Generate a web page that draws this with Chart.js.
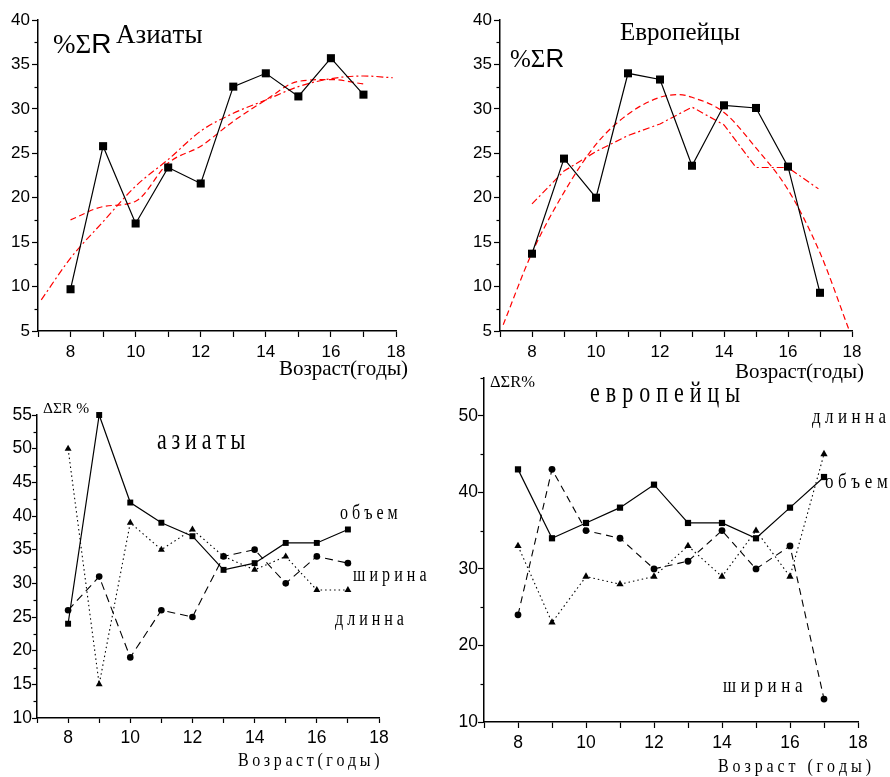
<!DOCTYPE html>
<html>
<head>
<meta charset="utf-8">
<script src="https://cdn.jsdelivr.net/npm/chart.js@4.4.0/dist/chart.umd.min.js"></script>
<style>
html, body { margin: 0; padding: 0; background: #fff; }
#wrap { position: relative; width: 890px; height: 777px; overflow: hidden; background: #fff; }
canvas { position: absolute; left: 0; top: 0; }
</style>
</head>
<body>
<div id="wrap">
  <canvas id="c1" width="890" height="777"></canvas>
  <canvas id="c2" width="890" height="777"></canvas>
  <canvas id="c3" width="890" height="777"></canvas>
  <canvas id="c4" width="890" height="777"></canvas>
</div>
<script>
// данные (возраст, годы)
const ages = [8, 9, 10, 11, 12, 13, 14, 15, 16, 17];

// верх слева: азиаты, %ΣR
const asianSum = [9.7, 25.8, 17.1, 23.4, 21.6, 32.5, 34.0, 31.4, 35.7, 31.6];
const asianFitAX = [8, 9, 10, 11, 12, 13, 14, 15, 16, 17];
const asianFitA = [17.5, 19.0, 19.6, 23.9, 25.8, 28.6, 31.0, 33.1, 33.3, 32.8];
const asianFitBX = [7.1, 8, 9, 10, 11, 12, 13, 14, 15, 16, 17, 17.9];
const asianFitB = [8.5, 13.2, 17.3, 21.3, 24.3, 27.5, 29.5, 31.0, 32.5, 33.4, 33.7, 33.5];

// верх справа: европейцы, %ΣR
const euroSum = [13.7, 24.4, 20.0, 34.0, 33.3, 23.6, 30.4, 30.1, 23.5, 9.3];
const euroFitAX = [7.1, 8, 9, 10, 11, 12, 12.6, 13, 14, 15, 16, 17, 17.9];
const euroFitA = [5.7, 13.8, 20.6, 26.0, 29.4, 31.3, 31.6, 31.3, 29.6, 25.6, 20.9, 13.8, 5.2];
const euroFitBX = [8, 9, 10, 11, 12, 13, 14, 15, 16, 16.95];
const euroFitB = [19.3, 23.0, 25.2, 27.0, 28.3, 30.2, 28.2, 23.4, 23.4, 21.0];

// низ слева: азиаты, ΔΣR%
const asianVolume = [24, 55, 42, 39, 37, 32, 33, 36, 36, 38];
const asianWidth = [26, 31, 19, 26, 25, 34, 35, 30, 34, 33];
const asianLength = [50, 15, 39, 35, 38, 34, 32, 34, 29, 29];

// низ справа: европейцы, ΔΣR%
const euroVolume = [43, 34, 36, 38, 41, 36, 36, 34, 38, 42];
const euroWidth = [24, 43, 35, 34, 30, 31, 35, 30, 33, 13];
const euroLength = [33, 23, 29, 28, 29, 33, 29, 35, 29, 45];

const xTicks = [8, 10, 12, 14, 16, 18];

const SANS = '"Liberation Sans", Arial, sans-serif';
const SERIF = '"Liberation Serif", "Times New Roman", serif';
const RED = '#ff0000';

const pts = (xs, ys) => xs.map((x, i) => ({ x: x, y: ys[i] }));

// текст с разрядкой
function drawSpaced(ctx, s, x, y, font, ls, sy) {
    ctx.save();
    ctx.font = font;
    ctx.fillStyle = '#000';
    ctx.textBaseline = 'alphabetic';
    ctx.textAlign = 'left';
    ctx.translate(x, y);
    ctx.scale(1, sy || 1);
    let cx = 0;
    for (const ch of s) {
        ctx.fillText(ch, cx, 0);
        cx += ctx.measureText(ch).width + (ls || 0);
    }
    ctx.restore();
    return x + cx - (ls || 0);
}

// подписи + короткие промежуточные штрихи на оси Y
const makeNotes = (items, yLabel) => ({
    id: 'notes',
    afterDraw(chart) {
        const ctx = chart.ctx;
        const ys = chart.scales.y;
        ctx.save();
        ctx.strokeStyle = '#000';
        ctx.lineWidth = 1.2;
        ys.ticks.forEach(t => {
            if (t.value % yLabel !== 0) {
                const py = Math.round(ys.getPixelForValue(t.value)) + 0.5;
                ctx.beginPath();
                ctx.moveTo(ys.right, py);
                ctx.lineTo(ys.right - 3.5, py);
                ctx.stroke();
            }
        });
        ctx.restore();
        items.forEach(it => {
            let x = it.x;
            it.parts.forEach(p => {
                x = drawSpaced(ctx, p.t, x, it.y, p.f, p.ls, p.sy);
            });
        });
    }
});

// box: L, R, T, B - положение области графика на странице
const makeChart = (id, box, yOpt, datasets, notes, tick) => {
    const yw = 36, xh = 40;
    return new Chart(document.getElementById(id), {
        type: 'line',
        data: { datasets: datasets },
        options: {
            responsive: false,
            animation: false,
            events: [],
            layout: {
                padding: {
                    left: box.L - yw,
                    right: 890 - box.R,
                    top: box.T,
                    bottom: 777 - box.B - xh
                }
            },
            plugins: { legend: { display: false }, tooltip: { enabled: false } },
            scales: {
                x: {
                    type: 'linear',
                    min: 7, max: 18,
                    afterFit: s => { s.height = xh; },
                    grid: { display: true, drawOnChartArea: false, tickLength: tick.len, color: '#000', tickWidth: 1.2 },
                    border: { display: true, color: '#000', width: 1.5 },
                    ticks: {
                        stepSize: 1,
                        autoSkip: false,
                        maxRotation: 0,
                        padding: tick.xpad,
                        color: '#000',
                        font: { family: SANS, size: tick.size },
                        callback: v => xTicks.includes(v) ? String(v) : ''
                    }
                },
                y: {
                    min: yOpt.min, max: yOpt.max,
                    afterFit: s => { s.width = yw; },
                    grid: {
                        display: true, drawOnChartArea: false, tickLength: tick.len, tickWidth: 1.2,
                        color: '#000',
                        tickColor: c => (c.tick && c.tick.value % yOpt.label !== 0) ? 'rgba(0,0,0,0)' : '#000'
                    },
                    border: { display: true, color: '#000', width: 1.5 },
                    ticks: {
                        stepSize: yOpt.step,
                        autoSkip: false,
                        padding: tick.ypad,
                        color: '#000',
                        font: { family: SANS, size: tick.size },
                        callback: v => (v % yOpt.label === 0) ? String(v) : ''
                    }
                }
            }
        },
        plugins: [makeNotes(notes, yOpt.label)]
    });
};

const markLine = (xs, ys, style, r, dash, w) => ({
    data: pts(xs, ys),
    borderColor: '#000',
    borderWidth: w || 1.2,
    borderDash: dash || [],
    pointStyle: style,
    pointRadius: r,
    pointBackgroundColor: '#000',
    pointBorderColor: '#000',
    pointBorderWidth: 0,
    tension: 0,
    clip: false
});

const fitLine = (xs, ys, dash, tension) => ({
    data: pts(xs, ys),
    borderColor: RED,
    borderWidth: 1.2,
    borderDash: dash,
    pointRadius: 0,
    tension: tension,
    cubicInterpolationMode: 'monotone',
    clip: false
});

const DASH = [6, 3.5];
const DASHDOT = [7, 3, 2, 3];

// 1. азиаты %ΣR
makeChart('c1', { L: 38, R: 396, T: 20, B: 331 }, { min: 5, max: 40, step: 2.5, label: 5 }, [
    markLine(ages, asianSum, 'rect', 5.7, [], 1.2),
    fitLine(asianFitAX, asianFitA, DASH, 0.3),
    fitLine(asianFitBX, asianFitB, DASHDOT, 0.4)
], [
    { x: 53, y: 53, parts: [{ t: '%Σ', f: '27px ' + SERIF }, { t: 'R', f: '28px ' + SANS }] },
    { x: 116, y: 43, parts: [{ t: 'Азиаты', f: '27px ' + SERIF }] },
    { x: 279, y: 375, parts: [{ t: 'Возраст(годы)', f: '21px ' + SERIF }] }
], { len: 6, size: 17, xpad: 5, ypad: 2 });

// 2. европейцы %ΣR
makeChart('c2', { L: 500, R: 852, T: 20, B: 331 }, { min: 5, max: 40, step: 2.5, label: 5 }, [
    markLine(ages, euroSum, 'rect', 5.7, [], 1.2),
    fitLine(euroFitAX, euroFitA, DASH, 0.4),
    { ...fitLine(euroFitBX, euroFitB, DASHDOT, 0), cubicInterpolationMode: 'default' }
], [
    { x: 510, y: 67, parts: [{ t: '%Σ', f: '25px ' + SERIF }, { t: 'R', f: '26px ' + SANS }] },
    { x: 620, y: 40, parts: [{ t: 'Европейцы', f: '25px ' + SERIF }] },
    { x: 735, y: 378, parts: [{ t: 'Возраст(годы)', f: '21px ' + SERIF }] }
], { len: 6, size: 17, xpad: 5, ypad: 2 });

// 3. азиаты ΔΣR%
makeChart('c3', { L: 37, R: 379, T: 415, B: 718 }, { min: 10, max: 55, step: 2.5, label: 5 }, [
    markLine(ages, asianVolume, 'rect', 4.2, [], 1.2),
    markLine(ages, asianWidth, 'circle', 3.3, [8, 5], 1.1),
    markLine(ages, asianLength, 'triangle', 4, [1.5, 3], 1.1)
], [
    { x: 43, y: 413, parts: [{ t: 'ΔΣR %', f: '15.5px ' + SERIF }] },
    { x: 157, y: 449, parts: [{ t: 'азиаты', f: '22px ' + SERIF, ls: 4.8, sy: 1.3 }] },
    { x: 340, y: 519, parts: [{ t: 'объем', f: '16px ' + SERIF, ls: 4, sy: 1.25 }] },
    { x: 353, y: 581, parts: [{ t: 'ширина', f: '16px ' + SERIF, ls: 4.1, sy: 1.25 }] },
    { x: 335, y: 625, parts: [{ t: 'длинна', f: '16px ' + SERIF, ls: 4, sy: 1.25 }] },
    { x: 238, y: 766, parts: [{ t: 'Возраст(годы)', f: '16px ' + SERIF, ls: 3.6, sy: 1.15 }] }
], { len: 5, size: 17.5, xpad: 5, ypad: 0 });

// 4. европейцы ΔΣR%
makeChart('c4', { L: 484, R: 858, T: 377.5, B: 722 }, { min: 10, max: 55, step: 5, label: 10 }, [
    markLine(ages, euroVolume, 'rect', 4.4, [], 1.2),
    markLine(ages, euroWidth, 'circle', 3.4, [7, 5], 1.1),
    markLine(ages, euroLength, 'triangle', 4.2, [1.5, 3], 1.1)
], [
    { x: 490, y: 387, parts: [{ t: 'ΔΣR%', f: '16.5px ' + SERIF }] },
    { x: 590, y: 402, parts: [{ t: 'европейцы', f: '22px ' + SERIF, ls: 6, sy: 1.3 }] },
    { x: 812, y: 423, parts: [{ t: 'длинна', f: '17px ' + SERIF, ls: 4.4, sy: 1.25 }] },
    { x: 825, y: 488, parts: [{ t: 'объем', f: '17px ' + SERIF, ls: 4.6, sy: 1.25 }] },
    { x: 723, y: 692, parts: [{ t: 'ширина', f: '17px ' + SERIF, ls: 4.6, sy: 1.25 }] },
    { x: 718, y: 772, parts: [{ t: 'Возраст (годы)', f: '16px ' + SERIF, ls: 3.9, sy: 1.15 }] }
], { len: 6, size: 17.5, xpad: 5, ypad: 0 });
</script>
</body>
</html>
